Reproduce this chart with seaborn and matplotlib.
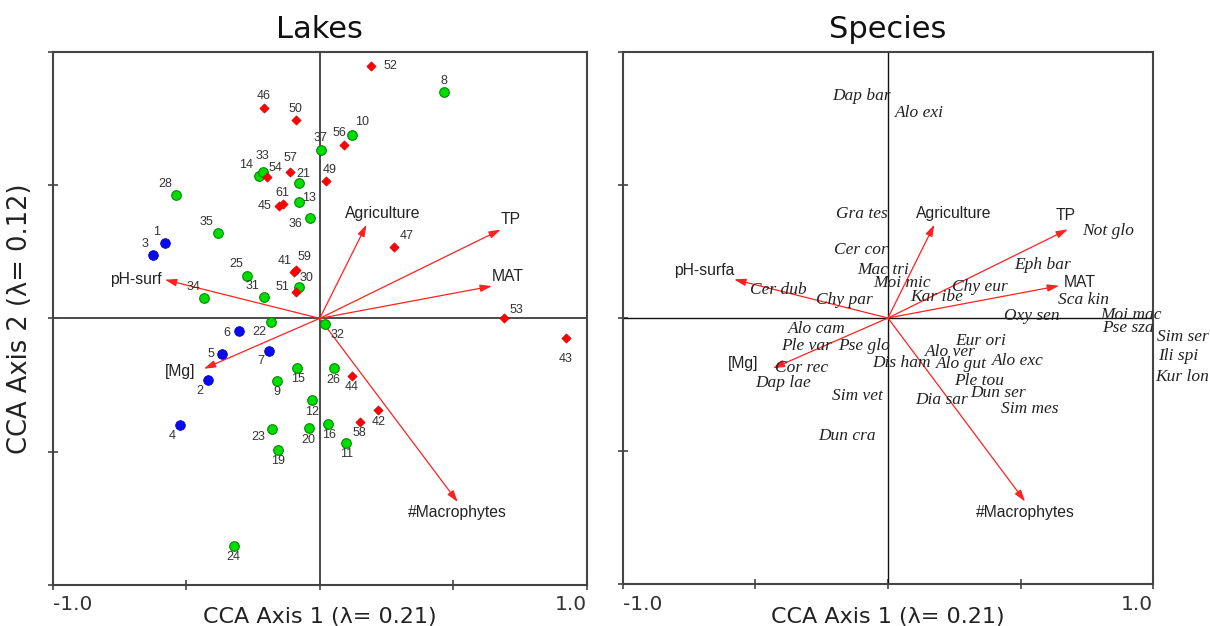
import matplotlib
matplotlib.use("Agg")
import matplotlib.pyplot as plt
import seaborn as sns

# ---- lake scores on CCA axes 1 and 2, grouped by lake type ----
blue_ids = ["1", "2", "3", "4", "5", "6", "7"]
blue_x = [-0.581, -0.419, -0.624, -0.523, -0.367, -0.302, -0.190]
blue_y = [0.281, -0.232, 0.236, -0.401, -0.135, -0.049, -0.122]

green_ids = ["8", "9", "10", "11", "12", "13", "14", "15", "16", "19", "20", "21", "22",
             "23", "24", "25", "26", "28", "30", "31", "32", "33", "34", "35", "36", "37"]
green_x = [0.464, -0.160, 0.119, 0.100, -0.030, -0.079, -0.227, -0.085, 0.030, -0.157,
           -0.041, -0.079, -0.182, -0.178, -0.323, -0.272, 0.052, -0.537, -0.077, -0.207,
           0.021, -0.213, -0.433, -0.381, -0.035, 0.003]
green_y = [0.849, -0.235, 0.688, -0.469, -0.308, 0.436, 0.534, -0.185, -0.396, -0.493,
           -0.413, 0.507, -0.012, -0.416, -0.854, 0.158, -0.185, 0.464, 0.116, 0.081,
           -0.020, 0.548, 0.078, 0.321, 0.377, 0.633]

red_ids = ["41", "42", "43", "44", "45", "46", "47", "49", "50", "51", "52", "53",
           "54", "56", "57", "58", "59", "61"]
red_x = [-0.096, 0.220, 0.923, 0.121, -0.152, -0.210, 0.280, 0.025, -0.090, -0.090,
         0.191, 0.691, -0.197, 0.090, -0.112, 0.150, -0.090, -0.139]
red_y = [0.175, -0.345, -0.074, -0.215, 0.423, 0.788, 0.269, 0.514, 0.745, 0.099,
         0.946, 0.000, 0.529, 0.651, 0.548, -0.390, 0.181, 0.430]

# ---- species scores ----
species = ["Dap bar", "Alo exi", "Gra tes", "Cer cor", "Mac tri", "Moi mic", "Cer dub",
           "Chy par", "Not glo", "Eph bar", "Chy eur", "Kar ibe", "Sca kin", "Oxy sen",
           "Moi mac", "Pse sza", "Sim ser", "Ili spi", "Kur lon", "Eur ori", "Alo ver",
           "Dis ham", "Alo gut", "Alo exc", "Ple tou", "Dun ser", "Dia sar", "Sim mes",
           "Alo cam", "Ple var", "Pse glo", "Cor rec", "Dap lae", "Sim vet", "Dun cra"]
species_x = [-0.100, 0.117, -0.098, -0.102, -0.019, 0.052, -0.412, -0.166, 0.831, 0.584,
             0.345, 0.185, 0.738, 0.542, 0.917, 0.904, 1.110, 1.095, 1.110, 0.348,
             0.236, 0.052, 0.276, 0.490, 0.342, 0.414, 0.203, 0.536, -0.270, -0.307,
             -0.090, -0.326, -0.395, -0.115, -0.154]
species_y = [0.832, 0.771, 0.391, 0.257, 0.182, 0.132, 0.106, 0.069, 0.328, 0.200,
             0.118, 0.078, 0.069, 0.009, 0.013, -0.038, -0.073, -0.144, -0.220, -0.088,
             -0.128, -0.170, -0.172, -0.162, -0.235, -0.281, -0.307, -0.341, -0.041, -0.106,
             -0.106, -0.188, -0.243, -0.291, -0.444]

# ---- environmental variable biplot arrows ----
env_lakes = ["pH-surf", "Agriculture", "TP", "MAT", "[Mg]", "#Macrophytes"]
env_species = ["pH-surfa", "Agriculture", "TP", "MAT", "[Mg]", "#Macrophytes"]
env_x = [-0.580, 0.175, 0.678, 0.645, -0.434, 0.517]
env_y = [0.145, 0.351, 0.333, 0.121, -0.189, -0.689]

axis1_label = "CCA Axis 1 (λ= 0.21)"
axis2_label = "CCA Axis 2 (λ= 0.12)"

# label placement (pixel offsets of the label centre from its point, y downward)
site_offsets = {
    "1": (-8, -11), "2": (-8, 11), "3": (-8, -11), "4": (-8, 11), "5": (-11, 0),
    "6": (-12, 2), "7": (-8, 10), "8": (0, -11), "9": (0, 11), "10": (11, -13),
    "11": (0, 11), "12": (0, 12), "13": (10, -4), "14": (-13, -11), "15": (1, 11),
    "16": (1, 11), "19": (0, 11), "20": (0, 12), "21": (5, -9), "22": (-12, 10),
    "23": (-14, 8), "24": (0, 11), "25": (-11, -12), "26": (0, 12), "28": (-11, -11),
    "30": (7, -9), "31": (-12, -11), "32": (12, 11), "33": (0, -16), "34": (-11, -11),
    "35": (-12, -11), "36": (-15, 6), "37": (0, -12), "41": (-9, -11), "42": (0, 12),
    "43": (-1, 21), "44": (0, 11), "45": (-15, 0), "46": (0, -12), "47": (12, -11),
    "49": (3, -11), "50": (0, -11), "51": (-13, -5), "52": (20, 0), "53": (12, -8),
    "54": (8, -9), "56": (-4, -12), "57": (1, -14), "58": (0, 11), "59": (9, -13),
    "61": (0, -11),
}
env_offsets_lakes = [(-3, 0, "right"), (16, -11, "center"), (0, -10, "left"),
                     (0, -10, "left"), (-8, 3, "right"), (0, 10, "center")]
env_offsets_species = [(0, -9, "right"), (19, -11, "center"), (-2, -14, "center"),
                       (5, -3, "left"), (-14, -5, "right"), (0, 11, "center")]

sns.set_style("white")
plt.rcParams["font.family"] = ["DejaVu Sans"]

fig = plt.figure(figsize=(12.1, 6.26), dpi=100)
ax1 = fig.add_axes([0.0436, 0.0655, 0.4413, 0.8519])
ax2 = fig.add_axes([0.5146, 0.0666, 0.4385, 0.8508])

FRAME = "#444444"


def frame(ax, line_color, line_width):
    ax.set_xlim(-1, 1)
    ax.set_ylim(-1, 1)
    ax.axhline(0, color=line_color, lw=line_width, zorder=1)
    ax.axvline(0, color=line_color, lw=line_width, zorder=1)
    for sp in ax.spines.values():
        sp.set_color(FRAME)
        sp.set_linewidth(1.5)
    ax.set_xticks([-1, -0.5, 0, 0.5, 1])
    ax.set_xticklabels(["-1.0", "", "", "", "1.0"])
    ax.set_yticks([-1, -0.5, 0, 0.5, 1])
    ax.set_yticklabels([])
    ax.tick_params(axis="both", direction="inout", length=7, width=1.2,
                   color=FRAME, labelsize=14.5, labelcolor="#333333", pad=4,
                   bottom=True, left=True)
    labs = ax.get_xticklabels()
    labs[0].set_ha("left")
    labs[-1].set_ha("right")
    ax.set_xlabel(axis1_label, fontsize=16, color="#222222")
    ax.xaxis.set_label_coords(0.5, -0.072)
    ax.xaxis.label.set_va("baseline")


def arrows(ax, names, offsets):
    for name, x, y, (dx, dy, ha) in zip(names, env_x, env_y, offsets):
        ax.annotate("", xy=(x, y), xytext=(0, 0),
                    arrowprops=dict(arrowstyle="-|>,head_length=0.7,head_width=0.22",
                                    color="#ff2020", lw=0.9, shrinkA=0, shrinkB=0,
                                    mutation_scale=10), zorder=2)
        ax.annotate(name, xy=(x, y), xytext=(dx, -dy), textcoords="offset pixels",
                    ha=ha, va="center", fontsize=11.3, color="#222222",
                    family="Liberation Sans", zorder=5)


# ---------------- Lakes ----------------
frame(ax1, "#4a4a4a", 1.4)
arrows(ax1, env_lakes, env_offsets_lakes)

sns.scatterplot(x=blue_x, y=blue_y, ax=ax1, color="#0a0af0", edgecolor="#0000c8",
                linewidth=0.6, s=48, marker="o", zorder=3)
sns.scatterplot(x=green_x, y=green_y, ax=ax1, color="#00dd00", edgecolor="#008a00",
                linewidth=0.8, s=48, marker="o", zorder=3)
sns.scatterplot(x=red_x, y=red_y, ax=ax1, color="#ff0000", edgecolor="#e00000",
                linewidth=0.5, s=22, marker="D", zorder=4)

for ids, xs, ys in [(blue_ids, blue_x, blue_y), (green_ids, green_x, green_y),
                    (red_ids, red_x, red_y)]:
    for lab, x, y in zip(ids, xs, ys):
        dx, dy = site_offsets[lab]
        ax1.annotate(lab, xy=(x, y), xytext=(dx, -dy), textcoords="offset pixels",
                     ha="center", va="center", fontsize=9, color="#333333",
                     family="Liberation Sans", zorder=5)

ax1.set_ylabel(axis2_label, fontsize=18.5, color="#222222")
ax1.yaxis.set_label_coords(-0.061, 0.5)
ax1.yaxis.label.set_va("center")
ax1.text(0.5, 1.0257, "Lakes", transform=ax1.transAxes, ha="center",
         va="baseline", fontsize=22, color="#111111")

# ---------------- Species ----------------
frame(ax2, "#111111", 1.0)
arrows(ax2, env_species, env_offsets_species)

for name, x, y in zip(species, species_x, species_y):
    ax2.text(x, y, name, ha="center", va="center", fontsize=12.5, style="italic",
             family="Liberation Serif", color="#222222", zorder=5, clip_on=False)

ax2.set_ylabel("")
ax2.text(0.5, 1.0257, "Species", transform=ax2.transAxes, ha="center",
         va="baseline", fontsize=22, color="#111111")

fig.savefig("out.png", dpi=100, facecolor="white")
